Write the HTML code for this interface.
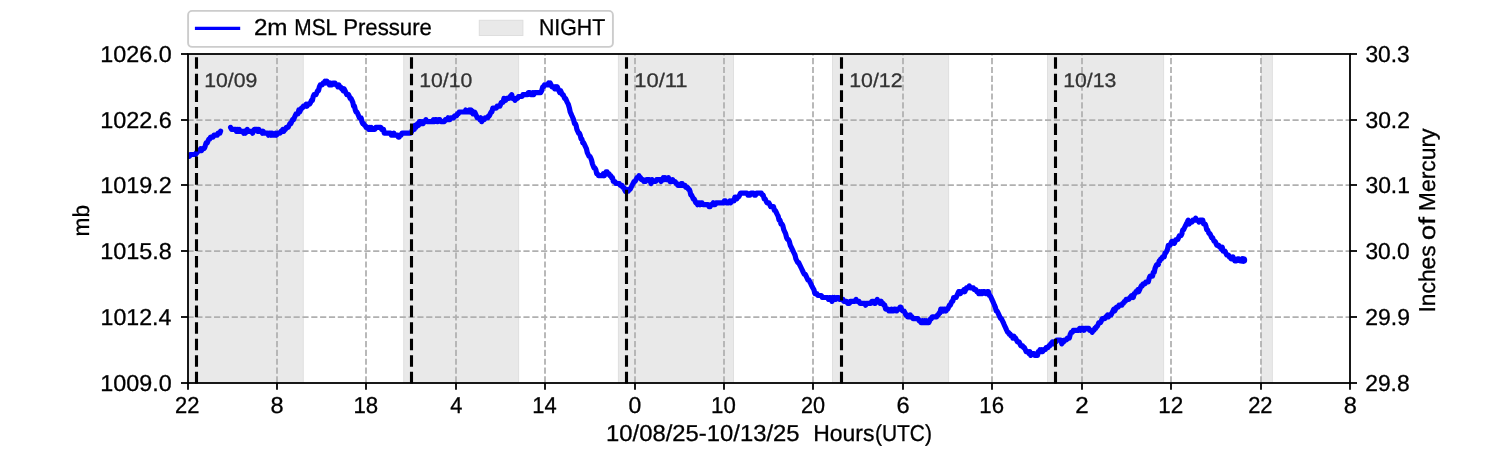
<!DOCTYPE html>
<html><head><meta charset="utf-8"><title>2m MSL Pressure</title>
<style>html,body{margin:0;padding:0;background:#fff}body{width:1500px;height:450px;overflow:hidden}svg{display:block;will-change:transform;text-rendering:geometricPrecision}text{font-family:"Liberation Sans",sans-serif;fill:#000;stroke:#000;stroke-width:0.3px}</style></head><body>
<svg width="1500" height="450" viewBox="0 0 1500 450">
<rect x="0" y="0" width="1500" height="450" fill="#ffffff"/>
<g>
<rect x="187.5" y="54.0" width="115.8" height="328.5" fill="#e9e9e9"/>
<rect x="302.8" y="54.0" width="0.9" height="328.5" fill="#dedede"/>
<rect x="403.7" y="54.0" width="115.0" height="328.5" fill="#e9e9e9"/>
<rect x="403.3" y="54.0" width="0.9" height="328.5" fill="#dedede"/>
<rect x="518.2" y="54.0" width="0.9" height="328.5" fill="#dedede"/>
<rect x="618.3" y="54.0" width="115.2" height="328.5" fill="#e9e9e9"/>
<rect x="617.9" y="54.0" width="0.9" height="328.5" fill="#dedede"/>
<rect x="733.0" y="54.0" width="0.9" height="328.5" fill="#dedede"/>
<rect x="832.5" y="54.0" width="116.2" height="328.5" fill="#e9e9e9"/>
<rect x="832.1" y="54.0" width="0.9" height="328.5" fill="#dedede"/>
<rect x="948.2" y="54.0" width="0.9" height="328.5" fill="#dedede"/>
<rect x="1047.4" y="54.0" width="116.3" height="328.5" fill="#e9e9e9"/>
<rect x="1047.0" y="54.0" width="0.9" height="328.5" fill="#dedede"/>
<rect x="1163.2" y="54.0" width="0.9" height="328.5" fill="#dedede"/>
<rect x="1261.3" y="54.0" width="11.1" height="328.5" fill="#e9e9e9"/>
<rect x="1260.9" y="54.0" width="0.9" height="328.5" fill="#dedede"/>
<rect x="1271.9" y="54.0" width="0.9" height="328.5" fill="#dedede"/>
</g>
<g stroke="#b0b0b0" stroke-width="1.75" stroke-dasharray="6.17 2.67" fill="none">
<line x1="277.00" y1="382.5" x2="277.00" y2="54.0"/>
<line x1="366.00" y1="382.5" x2="366.00" y2="54.0"/>
<line x1="456.00" y1="382.5" x2="456.00" y2="54.0"/>
<line x1="545.00" y1="382.5" x2="545.00" y2="54.0"/>
<line x1="635.00" y1="382.5" x2="635.00" y2="54.0"/>
<line x1="724.00" y1="382.5" x2="724.00" y2="54.0"/>
<line x1="813.00" y1="382.5" x2="813.00" y2="54.0"/>
<line x1="903.00" y1="382.5" x2="903.00" y2="54.0"/>
<line x1="992.00" y1="382.5" x2="992.00" y2="54.0"/>
<line x1="1082.00" y1="382.5" x2="1082.00" y2="54.0"/>
<line x1="1171.00" y1="382.5" x2="1171.00" y2="54.0"/>
<line x1="1261.00" y1="382.5" x2="1261.00" y2="54.0"/>
<line x1="187.5" y1="120.00" x2="1350.0" y2="120.00"/>
<line x1="187.5" y1="185.00" x2="1350.0" y2="185.00"/>
<line x1="187.5" y1="251.00" x2="1350.0" y2="251.00"/>
<line x1="187.5" y1="317.00" x2="1350.0" y2="317.00"/>
</g>
<clipPath id="ax"><rect x="188" y="54" width="1162" height="329"/></clipPath>
<g clip-path="url(#ax)" stroke="#0000ff" stroke-width="5.2" fill="none" stroke-linejoin="round" stroke-linecap="round">
<polyline points="187.5,156.4 189.4,156.4 190.3,154.5 195.6,154.5 196.4,152.6 197.2,152.6 198.0,150.6 199.8,150.6 200.6,148.7 201.5,150.6 202.4,148.7 204.1,148.7 205.0,146.8 206.1,142.9 207.2,142.9 208.0,141.0 208.9,139.0 209.8,139.0 210.6,137.1 213.1,137.1 213.9,135.2 217.2,135.2 218.0,133.2 219.8,133.2 220.6,131.1"/>
<polyline points="230.6,127.4 231.7,129.4 235.6,129.4 236.5,131.3 237.4,129.4 238.3,131.3 239.2,129.4 240.1,131.3 242.8,131.3 243.7,133.2 244.6,131.3 245.4,133.2 246.3,131.3 247.2,129.4 248.1,131.3 251.7,131.3 252.6,133.2 253.5,131.3 254.3,129.4 257.0,129.4 257.9,131.3 258.8,129.4 259.7,131.3 261.5,131.3 262.4,133.2 263.2,131.3 264.1,133.2 267.6,133.2 268.5,135.2 269.4,133.2 270.3,133.2 271.2,135.2 272.1,133.2 273.0,135.2 274.8,135.2 275.7,133.2 276.5,135.2 277.4,133.2 280.1,133.2 281.0,131.3 281.9,131.3 282.8,129.4 283.7,131.3 284.6,129.4 285.4,129.4 286.3,127.4 288.1,127.4 289.0,125.5 289.9,123.6 290.8,123.6 291.7,121.6 292.6,119.7 293.5,119.7 294.3,117.8 295.2,115.8 296.1,113.9 297.9,113.9 298.8,110.0 299.7,112.0 300.6,110.0 301.5,108.1 302.4,108.1 303.4,106.2 305.2,106.2 306.1,104.2 307.0,106.2 307.9,104.2 309.7,104.2 310.6,102.3 311.5,100.4 312.4,100.4 313.2,96.5 314.1,94.6 315.9,94.6 316.8,92.6 317.6,90.7 318.5,90.7 319.4,86.8 320.3,84.9 322.2,84.9 323.1,83.0 324.1,83.0 325.0,81.1 325.9,83.0 326.8,81.1 327.6,83.0 328.5,83.0 329.4,84.9 330.3,83.0 331.2,84.9 332.1,84.9 333.0,83.0 335.0,83.0 336.1,84.9 337.0,84.9 337.9,86.8 338.8,84.9 339.7,86.8 340.6,86.8 341.5,88.8 342.4,88.8 343.2,90.7 344.1,88.8 345.0,90.7 345.9,92.6 346.8,94.6 348.5,94.6 349.4,96.5 350.2,98.4 351.1,98.4 351.9,100.4 352.8,102.3 353.6,106.2 354.5,106.2 355.3,110.0 356.1,112.0 356.9,112.0 357.8,113.9 358.6,115.8 359.4,117.8 361.1,117.8 361.9,121.6 362.8,123.6 363.6,123.6 364.5,125.5 365.3,125.5 366.1,127.4 367.8,127.4 368.6,129.4 369.4,127.4 370.3,129.4 371.2,127.4 372.1,129.4 374.9,129.4 375.9,127.4 380.8,127.4 381.7,129.4 383.5,129.4 384.3,133.2 390.6,133.2 391.4,135.2 393.1,135.2 393.9,133.2 394.8,135.2 397.4,135.2 398.3,137.1 399.2,137.1 400.1,135.2 401.0,135.2 401.9,133.2 410.8,133.2 411.7,131.3 412.5,129.4 413.4,127.4 414.2,129.4 415.0,125.5 415.9,127.4 416.8,125.5 417.6,123.6 418.5,125.5 419.4,121.6 420.3,121.6 421.3,123.6 422.2,121.6 423.1,123.6 424.1,121.6 425.0,121.6 425.9,119.7 426.9,121.6 432.4,121.6 433.4,119.7 434.3,121.6 435.2,119.7 436.1,119.7 437.0,121.6 438.0,121.6 438.9,119.7 439.8,119.7 440.8,121.6 444.4,121.6 445.4,119.7 447.2,119.7 448.1,117.8 449.1,119.7 450.0,119.7 450.9,117.8 453.7,117.8 454.6,115.8 456.5,115.8 457.4,113.9 458.3,113.9 459.2,112.0 464.8,112.0 465.7,110.0 466.6,112.0 468.5,112.0 469.4,110.0 470.3,112.0 471.2,110.0 472.1,112.0 473.0,113.9 473.9,112.0 474.7,112.0 475.5,113.9 476.4,115.8 477.2,117.8 479.0,117.8 479.9,119.7 480.8,117.8 481.7,121.6 482.6,119.7 484.3,119.7 485.2,117.8 487.8,117.8 488.6,115.8 489.4,115.8 490.2,113.9 491.1,112.0 491.9,112.0 492.8,108.1 496.3,108.1 497.2,106.2 499.8,106.2 500.6,104.2 501.4,102.3 503.1,102.3 503.9,98.4 504.8,100.4 505.7,100.4 506.5,98.4 509.1,98.4 510.0,96.5 510.9,96.5 511.7,94.6 512.5,98.4 514.2,98.4 515.0,100.4 515.9,98.4 517.6,98.4 518.5,96.5 522.1,96.5 523.0,94.6 527.4,94.6 528.3,92.6 530.1,92.6 531.0,94.6 531.9,94.6 532.8,92.6 533.7,94.6 534.6,92.6 540.6,92.6 541.7,90.7 542.8,86.8 543.6,86.8 544.5,84.9 547.8,84.9 548.6,83.0 549.4,84.9 550.2,83.0 551.1,84.9 551.9,86.8 553.7,86.8 554.6,88.8 555.4,86.8 556.3,88.8 557.2,86.8 558.1,88.8 558.9,90.7 559.8,92.6 560.6,90.7 561.4,92.6 562.2,94.6 563.1,94.6 563.9,96.5 564.7,98.4 565.5,98.4 566.4,100.4 567.2,102.3 568.3,104.2 569.4,108.1 570.2,112.0 571.1,113.9 571.9,115.8 572.8,117.8 573.6,119.7 574.5,123.6 575.3,123.6 576.1,125.5 576.9,129.4 577.8,131.3 578.6,133.2 579.4,133.2 580.2,135.2 581.1,139.0 581.9,139.0 582.8,142.9 583.7,142.9 584.6,144.8 585.5,146.8 586.4,148.7 587.3,152.6 588.2,154.5 589.1,156.4 590.0,156.4 590.8,158.3 591.6,160.3 592.5,164.1 593.3,166.1 594.1,168.0 595.0,168.0 595.9,169.9 596.7,173.8 597.5,173.8 598.4,175.7 602.5,175.7 603.3,173.8 604.2,175.7 605.2,173.8 606.1,171.9 607.1,171.9 608.1,173.8 609.0,173.8 610.0,175.7 610.8,175.7 611.6,177.7 612.5,177.7 613.3,181.5 615.0,181.5 615.9,183.5 619.3,183.5 620.2,185.4 621.9,185.4 622.8,187.3 623.6,187.3 624.4,189.3 625.4,191.2 626.3,189.3 627.3,191.2 628.2,191.2 629.2,189.3 630.1,189.3 631.1,187.3 632.1,185.4 633.1,183.5 634.1,181.5 635.1,181.5 636.0,179.6 637.0,177.7 638.0,177.7 638.9,175.7 639.7,177.7 640.5,177.7 641.4,179.6 643.1,179.6 643.9,181.5 645.6,181.5 646.7,179.6 649.5,179.6 650.3,181.5 651.1,183.5 652.0,179.6 653.0,181.5 655.8,181.5 656.7,179.6 660.2,179.6 661.1,181.5 662.2,179.6 663.3,177.7 664.1,179.6 665.0,177.7 665.9,179.6 667.5,179.6 668.4,177.7 669.2,179.6 670.0,181.5 670.9,179.6 671.8,181.5 672.6,179.6 673.5,181.5 675.2,181.5 676.1,183.5 676.9,183.5 677.8,185.4 680.4,185.4 681.3,183.5 682.2,183.5 683.1,185.4 684.9,185.4 685.8,187.3 687.5,187.3 688.4,189.3 689.2,189.3 690.0,191.2 690.8,195.1 691.6,195.1 692.5,197.0 693.3,198.9 694.1,198.9 695.0,200.9 695.9,202.8 696.7,202.8 697.6,204.7 698.5,202.8 699.3,202.8 700.2,204.7 701.1,202.8 702.0,202.8 702.9,204.7 708.2,204.7 709.1,206.7 710.0,206.7 710.8,204.7 712.5,204.7 713.3,202.8 714.2,204.7 715.2,204.7 716.1,202.8 723.5,202.8 724.4,200.9 725.3,200.9 726.2,202.8 728.9,202.8 729.8,200.9 730.6,202.8 731.5,200.9 734.0,200.9 734.9,197.0 735.9,197.0 736.8,198.9 737.8,197.0 738.7,197.0 739.6,195.1 740.5,193.1 747.1,193.1 748.0,195.1 749.9,195.1 750.8,193.1 753.6,193.1 754.5,195.1 755.5,195.1 756.4,193.1 761.3,193.1 762.3,195.1 763.2,195.1 764.2,198.9 765.1,198.9 766.0,200.9 767.0,202.8 768.9,202.8 769.8,204.7 770.7,206.7 773.5,206.7 774.4,210.5 775.3,210.5 776.3,212.5 777.2,214.4 778.2,216.3 779.1,220.2 780.0,220.2 781.0,224.0 781.9,224.0 782.9,226.0 783.8,229.8 784.7,231.8 785.6,233.7 786.6,237.6 787.5,239.5 788.4,239.5 789.3,241.4 790.3,245.3 791.2,247.2 792.2,249.2 793.1,251.1 794.0,253.0 795.0,255.0 795.9,258.8 796.9,260.8 797.8,262.7 798.7,262.7 799.6,264.6 800.6,266.6 801.5,268.5 802.4,270.4 803.3,272.4 804.3,274.3 805.2,274.3 806.2,276.2 807.1,278.2 808.0,280.1 809.0,280.1 809.9,282.0 810.9,283.9 811.8,285.9 812.8,287.8 813.9,289.7 814.9,293.6 816.8,293.6 817.7,295.5 821.4,295.5 822.3,297.5 827.6,297.5 828.5,299.4 829.3,297.5 830.2,297.5 831.1,299.4 832.0,301.3 832.9,297.5 833.9,299.4 834.8,297.5 835.7,299.4 836.7,297.5 838.5,297.5 839.4,299.4 842.9,299.4 843.8,301.3 846.7,301.3 847.6,303.3 849.4,303.3 850.4,301.3 855.0,301.3 856.0,299.4 857.0,301.3 859.0,301.3 860.0,303.3 864.7,303.3 865.6,305.2 866.5,303.3 870.9,303.3 871.8,301.3 873.5,301.3 874.4,303.3 875.4,303.3 876.3,301.3 877.2,299.4 878.2,301.3 879.2,301.3 880.2,303.3 881.2,301.3 882.2,303.3 883.1,303.3 883.9,305.2 884.8,305.2 885.6,309.1 888.1,309.1 888.9,311.0 890.7,311.0 891.5,309.1 892.4,311.0 893.3,311.0 894.1,309.1 895.0,309.1 895.9,311.0 896.7,311.0 897.5,309.1 899.2,309.1 900.0,307.1 900.8,307.1 901.6,309.1 902.5,311.0 904.1,311.0 905.0,312.9 905.9,314.9 906.7,314.9 907.6,316.8 909.3,316.8 910.2,314.9 911.1,316.8 912.0,316.8 912.9,318.7 918.2,318.7 919.1,320.7 920.0,320.7 920.9,322.6 921.8,322.6 922.6,320.7 923.5,322.6 924.4,320.7 925.3,322.6 926.2,320.7 927.1,322.6 928.9,322.6 929.7,320.7 930.5,318.7 931.4,318.7 932.2,316.8 936.7,316.8 937.5,314.9 938.4,314.9 939.2,312.9 940.0,312.9 940.8,309.1 941.6,311.0 942.5,309.1 943.3,311.0 944.2,309.1 945.1,309.1 946.0,311.0 946.9,309.1 947.8,309.1 948.6,307.1 949.5,305.2 950.3,305.2 951.1,303.3 951.9,301.3 952.8,301.3 953.6,297.5 956.1,297.5 956.9,295.5 957.8,293.6 958.7,291.7 959.6,291.7 960.4,293.6 961.3,291.7 963.1,291.7 963.9,289.7 964.8,291.7 965.6,289.7 966.5,287.8 968.4,287.8 969.3,285.9 970.3,287.8 973.3,287.8 974.2,289.7 976.0,289.7 976.9,291.7 977.8,291.7 978.7,293.6 979.6,291.7 980.4,293.6 981.3,291.7 982.2,293.6 983.1,291.7 984.8,291.7 985.6,293.6 986.5,293.6 987.5,291.7 988.4,291.7 989.3,295.5 990.2,295.5 991.1,297.5 991.9,299.4 992.8,301.3 993.6,303.3 994.4,305.2 995.3,307.1 996.2,311.0 997.1,311.0 998.0,312.9 998.9,314.9 999.8,316.8 1000.7,318.7 1001.5,318.7 1002.4,320.7 1003.3,322.6 1004.1,324.5 1005.0,326.5 1005.9,328.4 1006.7,330.3 1007.6,332.3 1008.5,332.3 1009.3,334.2 1010.2,334.2 1011.1,336.1 1012.0,336.1 1012.9,338.1 1013.8,336.1 1014.7,338.1 1015.6,338.1 1016.5,340.0 1017.4,341.9 1019.1,341.9 1020.0,343.9 1020.9,345.8 1022.6,345.8 1023.5,347.7 1024.4,347.7 1025.3,349.6 1026.2,351.6 1028.0,351.6 1028.9,353.5 1029.8,351.6 1030.7,355.4 1031.5,353.5 1034.2,353.5 1035.0,355.4 1037.5,355.4 1038.3,351.6 1039.2,351.6 1040.0,349.6 1040.9,351.6 1041.8,349.6 1042.6,351.6 1043.5,349.6 1045.3,349.6 1046.2,347.7 1048.0,347.7 1048.9,345.8 1049.8,345.8 1050.7,343.9 1051.5,343.9 1052.4,341.9 1053.3,343.9 1054.2,341.9 1056.0,341.9 1056.9,340.0 1060.8,340.0 1061.8,343.9 1062.8,341.9 1063.7,341.9 1064.6,340.0 1066.5,340.0 1067.4,338.1 1069.3,338.1 1070.3,334.2 1071.3,332.3 1072.3,332.3 1073.3,330.3 1078.7,330.3 1079.6,328.4 1080.4,330.3 1081.3,328.4 1083.1,328.4 1084.1,330.3 1085.0,328.4 1088.7,328.4 1089.6,330.3 1091.3,330.3 1092.2,332.3 1093.0,330.3 1093.9,330.3 1094.8,328.4 1095.6,328.4 1096.4,326.5 1097.2,326.5 1098.1,324.5 1098.9,322.6 1100.6,322.6 1101.4,320.7 1102.2,318.7 1104.9,318.7 1105.8,316.8 1106.7,316.8 1107.6,314.9 1108.5,316.8 1109.3,314.9 1111.1,314.9 1112.0,312.9 1112.9,311.0 1113.8,309.1 1114.7,311.0 1115.6,309.1 1116.5,307.1 1118.2,307.1 1119.1,305.2 1121.8,305.2 1122.6,303.3 1123.5,303.3 1124.4,301.3 1125.3,301.3 1126.2,299.4 1128.9,299.4 1129.8,297.5 1130.7,297.5 1131.5,295.5 1132.4,295.5 1133.3,297.5 1134.2,293.6 1135.1,293.6 1136.0,291.7 1136.9,291.7 1137.8,289.7 1138.7,291.7 1139.6,289.7 1140.4,287.8 1141.3,285.9 1142.2,285.9 1143.1,283.9 1144.9,283.9 1145.8,282.0 1148.3,282.0 1149.2,278.2 1150.0,276.2 1152.5,276.2 1153.3,272.4 1154.2,272.4 1155.0,268.5 1155.8,266.6 1156.7,264.6 1158.3,264.6 1159.2,260.8 1160.0,260.8 1160.8,258.8 1161.7,258.8 1162.5,256.9 1164.2,256.9 1165.0,253.0 1165.8,253.0 1166.7,251.1 1167.5,249.2 1168.3,245.3 1170.0,245.3 1170.9,243.4 1171.8,241.4 1173.5,241.4 1174.4,243.4 1175.2,241.4 1176.1,239.5 1177.8,239.5 1178.6,237.6 1179.4,235.6 1181.1,235.6 1181.9,233.7 1182.8,229.8 1183.6,229.8 1184.4,227.9 1185.4,226.0 1186.3,224.0 1187.3,222.1 1188.2,220.2 1189.2,224.0 1190.1,222.1 1192.0,222.1 1192.9,220.2 1194.7,220.2 1195.6,218.2 1196.4,220.2 1198.1,220.2 1198.9,222.1 1200.0,220.2 1202.8,220.2 1203.6,224.0 1205.2,224.0 1205.9,226.0 1206.7,229.8 1207.5,229.8 1208.3,231.8 1209.2,233.7 1210.0,233.7 1210.8,235.6 1211.7,237.6 1212.5,237.6 1213.3,239.5 1214.2,241.4 1215.1,241.4 1216.0,243.4 1216.9,245.3 1218.7,245.3 1219.6,247.2 1220.4,247.2 1221.3,249.2 1222.2,247.2 1223.1,251.1 1224.9,251.1 1225.8,253.0 1226.7,255.0 1228.5,255.0 1229.3,256.9 1230.2,256.9 1231.1,258.8 1232.0,258.8 1232.9,256.9 1233.8,258.8 1234.7,260.8 1236.5,260.8 1237.4,258.8 1239.1,258.8 1240.0,260.8 1241.7,260.8 1242.5,258.8 1243.3,259.7"/>
</g>
<circle cx="1243.4" cy="260.1" r="3.8" fill="#0000ff"/>
<g stroke="#000" stroke-width="3.1" stroke-dasharray="11.56 5" fill="none">
<line x1="196.5" y1="383.4" x2="196.5" y2="54.0"/>
<line x1="411.5" y1="383.4" x2="411.5" y2="54.0"/>
<line x1="626.5" y1="383.4" x2="626.5" y2="54.0"/>
<line x1="841.5" y1="383.4" x2="841.5" y2="54.0"/>
<line x1="1055.5" y1="383.4" x2="1055.5" y2="54.0"/>
</g>
<text x="204.20" y="86.7" font-size="19.6" textLength="53.16" lengthAdjust="spacingAndGlyphs" style="fill:#333;stroke:#333">10/09</text>
<text x="419.20" y="86.7" font-size="19.6" textLength="53.15" lengthAdjust="spacingAndGlyphs" style="fill:#333;stroke:#333">10/10</text>
<text x="634.20" y="86.7" font-size="19.6" textLength="53.42" lengthAdjust="spacingAndGlyphs" style="fill:#333;stroke:#333">10/11</text>
<text x="849.20" y="86.7" font-size="19.6" textLength="53.42" lengthAdjust="spacingAndGlyphs" style="fill:#333;stroke:#333">10/12</text>
<text x="1063.20" y="86.7" font-size="19.6" textLength="53.16" lengthAdjust="spacingAndGlyphs" style="fill:#333;stroke:#333">10/13</text>
<g stroke="#000" stroke-width="1.8" fill="none">
<rect x="188" y="54" width="1162" height="329"/>
<line x1="188.00" y1="383" x2="188.00" y2="389.8"/>
<line x1="277.00" y1="383" x2="277.00" y2="389.8"/>
<line x1="366.00" y1="383" x2="366.00" y2="389.8"/>
<line x1="456.00" y1="383" x2="456.00" y2="389.8"/>
<line x1="545.00" y1="383" x2="545.00" y2="389.8"/>
<line x1="635.00" y1="383" x2="635.00" y2="389.8"/>
<line x1="724.00" y1="383" x2="724.00" y2="389.8"/>
<line x1="813.00" y1="383" x2="813.00" y2="389.8"/>
<line x1="903.00" y1="383" x2="903.00" y2="389.8"/>
<line x1="992.00" y1="383" x2="992.00" y2="389.8"/>
<line x1="1082.00" y1="383" x2="1082.00" y2="389.8"/>
<line x1="1171.00" y1="383" x2="1171.00" y2="389.8"/>
<line x1="1261.00" y1="383" x2="1261.00" y2="389.8"/>
<line x1="1350.00" y1="383" x2="1350.00" y2="389.8"/>
<line x1="188" y1="54.00" x2="181.0" y2="54.00"/>
<line x1="1350" y1="54.00" x2="1357.0" y2="54.00"/>
<line x1="188" y1="120.00" x2="181.0" y2="120.00"/>
<line x1="1350" y1="120.00" x2="1357.0" y2="120.00"/>
<line x1="188" y1="185.00" x2="181.0" y2="185.00"/>
<line x1="1350" y1="185.00" x2="1357.0" y2="185.00"/>
<line x1="188" y1="251.00" x2="181.0" y2="251.00"/>
<line x1="1350" y1="251.00" x2="1357.0" y2="251.00"/>
<line x1="188" y1="317.00" x2="181.0" y2="317.00"/>
<line x1="1350" y1="317.00" x2="1357.0" y2="317.00"/>
<line x1="188" y1="383.00" x2="181.0" y2="383.00"/>
<line x1="1350" y1="383.00" x2="1357.0" y2="383.00"/>
</g>
<text x="175.05" y="413.1" font-size="23.0" textLength="24.42" lengthAdjust="spacingAndGlyphs">22</text>
<text x="270.57" y="413.1" font-size="23.0" textLength="13.1" lengthAdjust="spacingAndGlyphs">8</text>
<text x="353.40" y="413.1" font-size="23.0" textLength="24.73" lengthAdjust="spacingAndGlyphs">18</text>
<text x="450.17" y="413.1" font-size="23.0" textLength="12.16" lengthAdjust="spacingAndGlyphs">4</text>
<text x="532.24" y="413.1" font-size="23.0" textLength="24.42" lengthAdjust="spacingAndGlyphs">14</text>
<text x="628.52" y="413.1" font-size="23.0" textLength="12.77" lengthAdjust="spacingAndGlyphs">0</text>
<text x="711.09" y="413.1" font-size="23.0" textLength="24.73" lengthAdjust="spacingAndGlyphs">10</text>
<text x="801.01" y="413.1" font-size="23.0" textLength="24.13" lengthAdjust="spacingAndGlyphs">20</text>
<text x="896.53" y="413.1" font-size="23.0" textLength="13.15" lengthAdjust="spacingAndGlyphs">6</text>
<text x="979.36" y="413.1" font-size="23.0" textLength="24.73" lengthAdjust="spacingAndGlyphs">16</text>
<text x="1075.38" y="413.1" font-size="23.0" textLength="13.44" lengthAdjust="spacingAndGlyphs">2</text>
<text x="1158.20" y="413.1" font-size="23.0" textLength="25.03" lengthAdjust="spacingAndGlyphs">12</text>
<text x="1248.13" y="413.1" font-size="23.0" textLength="24.42" lengthAdjust="spacingAndGlyphs">22</text>
<text x="1343.65" y="413.1" font-size="23.0" textLength="13.1" lengthAdjust="spacingAndGlyphs">8</text>
<text x="100.25" y="62.0" font-size="23.0" textLength="71.38" lengthAdjust="spacingAndGlyphs">1026.0</text>
<text x="100.25" y="128.0" font-size="23.0" textLength="71.65" lengthAdjust="spacingAndGlyphs">1022.6</text>
<text x="100.25" y="193.0" font-size="23.0" textLength="71.65" lengthAdjust="spacingAndGlyphs">1019.2</text>
<text x="100.25" y="259.0" font-size="23.0" textLength="71.65" lengthAdjust="spacingAndGlyphs">1015.8</text>
<text x="100.50" y="325.0" font-size="23.0" textLength="70.85" lengthAdjust="spacingAndGlyphs">1012.4</text>
<text x="100.25" y="390.5" font-size="23.0" textLength="71.38" lengthAdjust="spacingAndGlyphs">1009.0</text>
<text x="1365.45" y="62.0" font-size="23.0" textLength="44.21" lengthAdjust="spacingAndGlyphs">30.3</text>
<text x="1365.45" y="128.0" font-size="23.0" textLength="44.47" lengthAdjust="spacingAndGlyphs">30.2</text>
<text x="1365.45" y="193.0" font-size="23.0" textLength="44.47" lengthAdjust="spacingAndGlyphs">30.1</text>
<text x="1365.45" y="259.0" font-size="23.0" textLength="44.2" lengthAdjust="spacingAndGlyphs">30.0</text>
<text x="1365.20" y="325.0" font-size="23.0" textLength="44.74" lengthAdjust="spacingAndGlyphs">29.9</text>
<text x="1365.20" y="390.5" font-size="23.0" textLength="44.47" lengthAdjust="spacingAndGlyphs">29.8</text>
<text x="606.05" y="440.8" font-size="23.0" textLength="193.53" lengthAdjust="spacingAndGlyphs">10/08/25-10/13/25</text>
<text x="813.25" y="440.8" font-size="23.0" textLength="61.21" lengthAdjust="spacingAndGlyphs">Hours</text>
<text x="874.95" y="440.8" font-size="23.0" textLength="57.05" lengthAdjust="spacingAndGlyphs">(UTC)</text>
<text transform="translate(89.1,236.45) rotate(-90)" font-size="23.0" textLength="31.59" lengthAdjust="spacingAndGlyphs">mb</text>
<text transform="translate(1434.9,312.60) rotate(-90)" font-size="23.0" textLength="67.31" lengthAdjust="spacingAndGlyphs">Inches</text>
<text transform="translate(1434.9,240.20) rotate(-90)" font-size="23.0" textLength="23.28" lengthAdjust="spacingAndGlyphs">of</text>
<text transform="translate(1434.9,211.15) rotate(-90)" font-size="23.0" textLength="82.73" lengthAdjust="spacingAndGlyphs">Mercury</text>
<rect x="188.1" y="10.9" width="424.8" height="36" rx="4" ry="4" fill="#ffffff" stroke="#cccccc" stroke-width="1.9"/>
<line x1="194.9" y1="28.4" x2="240.2" y2="28.4" stroke="#0000ff" stroke-width="3.1"/>
<text x="253.90" y="34.8" font-size="23.0" textLength="33.64" lengthAdjust="spacingAndGlyphs">2m</text>
<text x="294.30" y="34.8" font-size="23.0" textLength="42.91" lengthAdjust="spacingAndGlyphs">MSL</text>
<text x="343.15" y="34.8" font-size="23.0" textLength="88.78" lengthAdjust="spacingAndGlyphs">Pressure</text>
<rect x="479.3" y="20.3" width="43.6" height="15.2" fill="#e9e9e9" stroke="#dedede" stroke-width="1"/>
<text x="538.90" y="34.8" font-size="23.0" textLength="66.3" lengthAdjust="spacingAndGlyphs">NIGHT</text>
</svg>
</body></html>
